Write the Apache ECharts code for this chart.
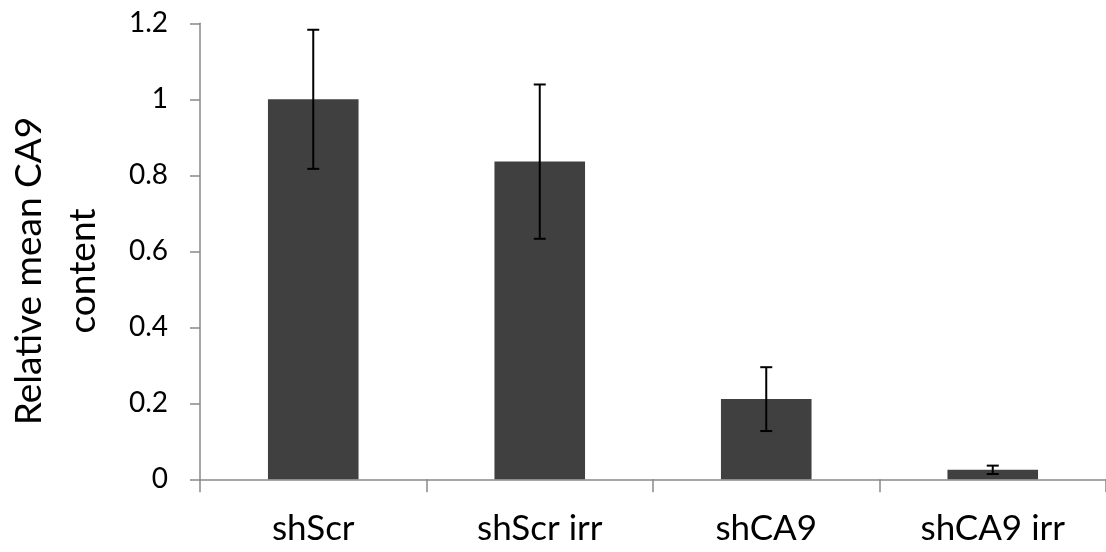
<!DOCTYPE html>
<html>
<head>
<meta charset="utf-8">
<script src="https://cdn.jsdelivr.net/npm/echarts@6/dist/echarts.min.js"></script>
<style>
html,body{margin:0;padding:0;background:#fff;}
#c{width:1106px;height:552px;}
</style>
</head>
<body>
<div id="c"></div>
<script>
const categories = ['shScr', 'shScr irr', 'shCA9', 'shCA9 irr'];
const means = [1.0, 0.836, 0.211, 0.025];
const errors = [0.183, 0.203, 0.084, 0.011];
const yTicks = [0, 0.2, 0.4, 0.6, 0.8, 1, 1.2];
const yTitle = 'Relative mean CA9\ncontent';

const FONT = 'Lato, "Open Sans", sans-serif';
const chart = echarts.init(document.getElementById('c'), null, {renderer: 'canvas'});

const errData = categories.map((c, i) => [i, means[i], errors[i]]);

chart.setOption({
  animation: false,
  backgroundColor: '#ffffff',
  grid: {left: 200, top: 23.3, bottom: 72.7, width: 907, containLabel: false},
  xAxis: {
    type: 'category',
    data: categories,
    boundaryGap: true,
    axisLine: {show: true, lineStyle: {color: '#898989', width: 1.5}},
    axisTick: {show: true, length: 13, inside: false, lineStyle: {color: '#898989', width: 1.5}},
    axisLabel: {color: '#000', fontFamily: FONT, fontSize: 35, margin: 32},
    splitLine: {show: false}
  },
  yAxis: {
    type: 'value',
    min: yTicks[0],
    max: yTicks[yTicks.length - 1],
    interval: 0.2,
    axisLine: {show: true, lineStyle: {color: '#898989', width: 1.5}},
    axisTick: {show: true, length: 10, inside: false, lineStyle: {color: '#898989', width: 1.5}},
    axisLabel: {color: '#000', fontFamily: FONT, fontSize: 28, margin: 32,
      formatter: v => String(Math.round(v * 10) / 10)},
    splitLine: {show: false}
  },
  graphic: [{
    type: 'text',
    x: 56, y: 271,
    rotation: Math.PI / 2,
    style: {
      text: yTitle,
      fontFamily: FONT,
      fontSize: 37,
      lineHeight: 54,
      fill: '#000',
      align: 'center',
      verticalAlign: 'middle'
    }
  }],
  series: [{
    type: 'bar',
    data: means,
    barWidth: '40%',
    itemStyle: {color: '#404040'}
  }, {
    type: 'custom',
    data: errData,
    z: 10,
    renderItem: function (params, api) {
      const i = api.value(0), m = api.value(1), e = api.value(2);
      const top = api.coord([i, m + e]);
      const bot = api.coord([i, m - e]);
      const hw = 6;
      const st = {stroke: '#000', lineWidth: 2};
      return {
        type: 'group',
        children: [
          {type: 'line', shape: {x1: top[0], y1: top[1], x2: bot[0], y2: bot[1]}, style: st},
          {type: 'line', shape: {x1: top[0] - hw, y1: top[1], x2: top[0] + hw, y2: top[1]}, style: st},
          {type: 'line', shape: {x1: bot[0] - hw, y1: bot[1], x2: bot[0] + hw, y2: bot[1]}, style: st}
        ]
      };
    }
  }]
});
</script>
</body>
</html>
